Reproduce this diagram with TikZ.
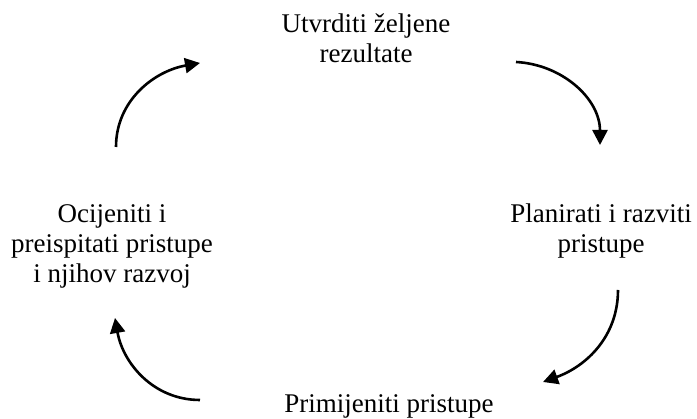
\documentclass[tikz,border=0pt]{standalone}
\usepackage{fontspec}
\setmainfont{Liberation Serif}
\usepackage{tikz}
\usetikzlibrary{arrows.meta,positioning}
\tikzset{
  stepnode/.style={align=center, inner sep=0pt, anchor=base,
                   font=\fontsize{27}{30}\selectfont},
  cyc/.style     ={-{Triangle[length=15pt,width=15pt]}, line width=2.6pt},
}

\begin{document}
\begin{tikzpicture}[x=1pt,y=1pt]
  \useasboundingbox (0,0) rectangle (697,419);
  %% the four steps (base = last line)
  \node[stepnode] (goal)   at (366,356) {Utvrditi željene\\rezultate};
  \node[stepnode] (plan)   at (601,166) {Planirati i razviti\\pristupe};
  \node[stepnode] (apply)  at (389,6)   {Primijeniti pristupe};
  \node[stepnode] (review) at (112,136) {Ocijeniti i\\preispitati pristupe\\i njihov razvoj};
  %% arrow ends
  \coordinate (g1) at (516,357);
  \coordinate (p0) at (600,274);
  \coordinate (p1) at (618,129);
  \coordinate (a0) at (543,37);
  \coordinate (a1) at (200,19);
  \coordinate (r0) at (115,101);
  \coordinate (r1) at (116,272);
  \coordinate (g0) at (200,356);
  \draw[cyc] (g1) to[out=-3,in=90]  (p0);
  \draw[cyc] (p1) to[out=-90,in=20] (a0);
  \draw[cyc] (a1) to[out=180,in=-80] (r0);
  \draw[cyc] (r1) to[out=90,in=190] (g0);
\end{tikzpicture}
\end{document}
